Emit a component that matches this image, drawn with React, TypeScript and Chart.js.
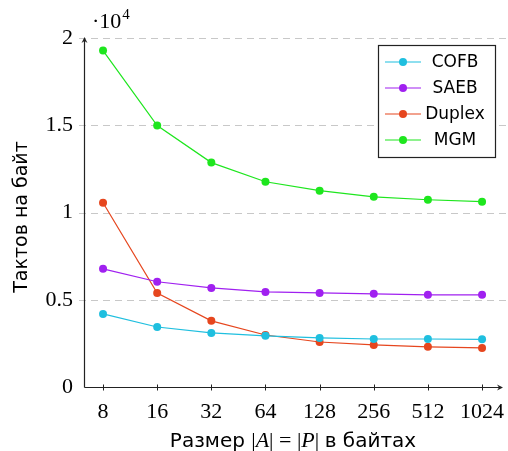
import React, { useEffect, useRef } from "react";
import { Chart, registerables } from "chart.js";

Chart.register(...registerables);

const sizes = [8, 16, 32, 64, 128, 256, 512, 1024];
const xTickLabels = ["8", "16", "32", "64", "128", "256", "512", "1024"];
const yTickValues = [0, 5000, 10000, 15000, 20000];
const yTickLabels = ["0", "0.5", "1", "1.5", "2"];

const seriesNames = ["COFB", "SAEB", "Duplex", "MGM"];
const seriesColors = ["#1fbfdf", "#a020f0", "#e6461e", "#1ee61e"];
const cofb = [4190, 3440, 3100, 2930, 2810, 2750, 2750, 2730];
const saeb = [6770, 6030, 5680, 5450, 5390, 5340, 5280, 5280];
const duplex = [10560, 5390, 3790, 2980, 2580, 2410, 2300, 2240];
const mgm = [19280, 14980, 12860, 11760, 11250, 10900, 10730, 10620];

const yTitle = "Тактов на байт";
const SERIF = "'Liberation Serif', 'Times New Roman', serif";
const SANS = "'DejaVu Sans', sans-serif";

const decorPlugin = {
  id: "decor",
  beforeDatasetsDraw(chart: any) {
    const ctx = chart.ctx;
    const xs = chart.scales.x;
    const ys = chart.scales.y;
    const area = chart.chartArea;
    ctx.save();
    // dashed horizontal grid
    ctx.strokeStyle = "#c8c8c8";
    ctx.lineWidth = 1;
    ctx.setLineDash([7, 5]);
    for (const v of yTickValues) {
      if (v === 0) continue;
      const y = Math.round(ys.getPixelForValue(v)) + 0.5;
      ctx.beginPath();
      ctx.moveTo(area.left - 5, y);
      ctx.lineTo(chart.width, y);
      ctx.stroke();
    }
    ctx.setLineDash([]);
    // axes
    ctx.strokeStyle = "#222";
    ctx.fillStyle = "#222";
    ctx.lineWidth = 1.2;
    const x0 = Math.round(area.left) + 0.5;
    const y0 = Math.round(ys.getPixelForValue(0)) + 0.5;
    ctx.beginPath();
    ctx.moveTo(x0, y0);
    ctx.lineTo(x0, area.top + 2);
    ctx.moveTo(x0, y0);
    ctx.lineTo(area.right - 2, y0);
    ctx.stroke();
    // arrowheads
    ctx.beginPath();
    ctx.moveTo(x0, area.top - 1);
    ctx.lineTo(x0 - 3, area.top + 5);
    ctx.lineTo(x0, area.top + 3);
    ctx.lineTo(x0 + 3, area.top + 5);
    ctx.closePath();
    ctx.fill();
    ctx.beginPath();
    ctx.moveTo(area.right + 1, y0);
    ctx.lineTo(area.right - 5, y0 - 3);
    ctx.lineTo(area.right - 3, y0);
    ctx.lineTo(area.right - 5, y0 + 3);
    ctx.closePath();
    ctx.fill();
    // x tick marks
    ctx.lineWidth = 1;
    for (const s of sizes) {
      const x = Math.round(xs.getPixelForValue(s)) + 0.5;
      ctx.beginPath();
      ctx.moveTo(x, y0 - 3);
      ctx.lineTo(x, y0 + 3);
      ctx.stroke();
    }
    ctx.restore();
  },
  afterDraw(chart: any) {
    const ctx = chart.ctx;
    const area = chart.chartArea;
    ctx.save();
    ctx.fillStyle = "#000";
    // multiplier label
    ctx.textBaseline = "alphabetic";
    ctx.textAlign = "left";
    ctx.font = `22px ${SERIF}`;
    ctx.fillText("·10", 92, 28);
    const w = ctx.measureText("·10").width;
    ctx.font = `15px ${SERIF}`;
    ctx.fillText("4", 92 + w + 1, 19);

    // y title
    ctx.save();
    ctx.translate(27, 217);
    ctx.rotate(-Math.PI / 2);
    ctx.font = `19px ${SANS}`;
    ctx.textAlign = "center";
    ctx.fillText(yTitle, 0, 0);
    ctx.restore();

    // x title with mixed fonts
    const parts: [string, string][] = [
      ["Размер ", `20px ${SANS}`],
      ["|", `22px ${SERIF}`],
      ["A", `italic 22px ${SERIF}`],
      ["| = |", `22px ${SERIF}`],
      ["P", `italic 22px ${SERIF}`],
      ["| ", `22px ${SERIF}`],
      ["в байтах", `20px ${SANS}`],
    ];
    let total = 0;
    const widths: number[] = [];
    for (const [t, f] of parts) {
      ctx.font = f;
      const ww = ctx.measureText(t).width;
      widths.push(ww);
      total += ww;
    }
    let cx = 293 - total / 2;
    ctx.textAlign = "left";
    parts.forEach(([t, f], i) => {
      ctx.font = f;
      ctx.fillText(t, cx, 447);
      cx += widths[i];
    });

    // legend
    const lx = 378.5, ly = 45.5, lw = 117, lh = 112;
    ctx.fillStyle = "#fff";
    ctx.fillRect(lx, ly, lw, lh);
    ctx.strokeStyle = "#222";
    ctx.lineWidth = 1.2;
    ctx.strokeRect(lx, ly, lw, lh);
    ctx.font = `17px ${SANS}`;
    ctx.textBaseline = "middle";
    ctx.textAlign = "center";
    chart.data.datasets.forEach((ds: any, i: number) => {
      const yy = 62 + i * 26;
      ctx.strokeStyle = ds.borderColor;
      ctx.lineWidth = 1.2;
      ctx.beginPath();
      ctx.moveTo(385, yy);
      ctx.lineTo(421, yy);
      ctx.stroke();
      ctx.fillStyle = ds.backgroundColor;
      ctx.beginPath();
      ctx.arc(403, yy, 4, 0, Math.PI * 2);
      ctx.fill();
      ctx.fillStyle = "#000";
      ctx.fillText(ds.label, 455, yy + 1);
    });
    ctx.restore();
  },
};

export default function App() {
  const ref = useRef<HTMLCanvasElement>(null);
  useEffect(() => {
    document.body.style.margin = "0";
    const values = [cofb, saeb, duplex, mgm];
    const chart = new Chart(ref.current!, {
      type: "line",
      data: {
        datasets: values.map((vals, i) => ({
          label: seriesNames[i],
          data: sizes.map((s, j) => ({ x: s, y: vals[j] })),
          borderColor: seriesColors[i],
          backgroundColor: seriesColors[i],
          borderWidth: 1.2,
          pointRadius: 4,
          pointBorderWidth: 0,
          pointBackgroundColor: seriesColors[i],
          tension: 0,
        })),
      },
      options: {
        responsive: false,
        animation: false,
        layout: { padding: { top: 38, right: 6, left: 0, bottom: 0 } },
        plugins: { legend: { display: false }, tooltip: { enabled: false } },
        scales: {
          x: {
            type: "logarithmic",
            min: 6.27,
            max: 1322,
            grid: { display: false, drawTicks: false },
            border: { display: false },
            afterBuildTicks: (scale: any) => {
              scale.ticks = sizes.map((v) => ({ value: v }));
            },
            afterFit: (scale: any) => {
              scale.height = 64;
              scale.paddingLeft = 0;
              scale.paddingRight = 0;
            },
            ticks: {
              padding: 12,
              autoSkip: false,
              maxRotation: 0,
              color: "#000",
              font: { family: SERIF, size: 22 },
              callback: (v: any) => {
                const idx = sizes.indexOf(Number(v));
                return idx >= 0 ? xTickLabels[idx] : "";
              },
            },
          },
          y: {
            min: 0,
            max: 20000,
            grid: { display: false, drawTicks: false },
            border: { display: false },
            afterBuildTicks: (scale: any) => {
              scale.ticks = yTickValues.map((v) => ({ value: v }));
            },
            afterFit: (scale: any) => {
              scale.width = 84;
              scale.paddingTop = 0;
              scale.paddingBottom = 0;
            },
            ticks: {
              padding: 11,
              color: "#000",
              font: { family: SERIF, size: 22 },
              callback: (v: any) => {
                const idx = yTickValues.indexOf(Number(v));
                return idx >= 0 ? yTickLabels[idx] : "";
              },
            },
          },
        },
      },
      plugins: [decorPlugin],
    });
    return () => chart.destroy();
  }, []);
  return (
    <div style={{ width: 508, height: 451 }}>
      <canvas ref={ref} width={508} height={451} />
    </div>
  );
}
